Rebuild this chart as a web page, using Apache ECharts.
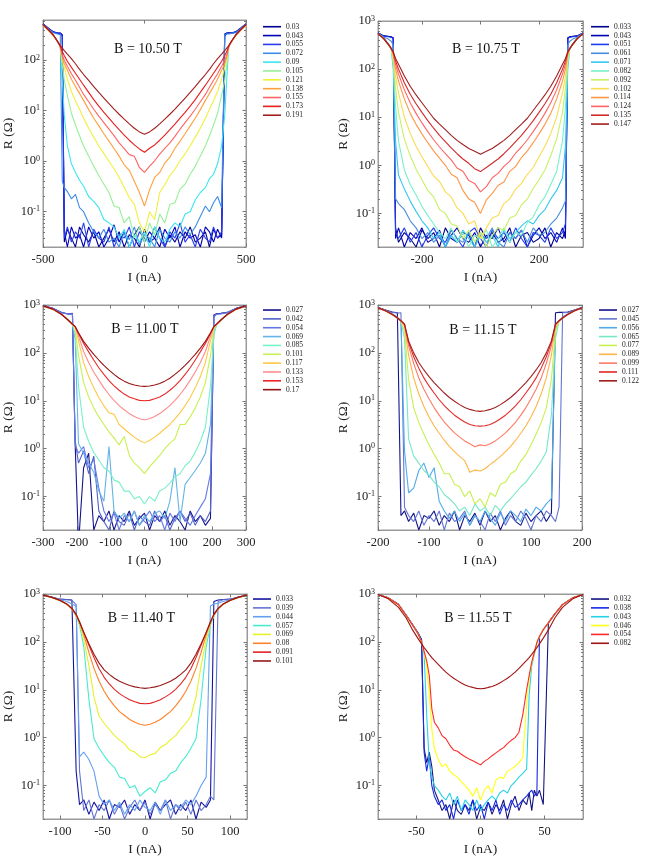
<!DOCTYPE html>
<html><head><meta charset="utf-8">
<script src="https://cdn.jsdelivr.net/npm/echarts@6/dist/echarts.min.js"></script>
<style>html,body{margin:0;padding:0;background:#fff}#c{width:664px;height:857px}</style>
</head><body><div id="c"></div><script>
const FONT = 'Liberation Serif';

// ---------- Panel 1 : B = 10.50 T ----------
const I_1050 = [-500,-475,-450,-430,-415,-405,-395,-380,-360,-340,-320,-300,-275,-250,-225,-200,-175,-150,-125,-100,-75,-50,-25,0,25,50,75,100,125,150,175,200,225,250,275,300,320,340,360,380,395,405,415,430,450,475,500];
const LEG_1050 = ['0.03','0.043','0.055','0.072','0.09','0.105','0.121','0.138','0.155','0.173','0.191'];
const COL_1050 = ['#00008c','#0000b8','#2a3cf0','#3c8ce6','#3ce6f0','#96f096','#f0f03c','#ffa03c','#ff6464','#e61e1e','#a01e1e'];
const X_TICKS_1050 = [-500,0,500];
const R_1050_030 = [525,435,365,350,345,320,0.025,0.045,0.03,0.02,0.05,0.035,0.025,0.04,0.02,0.03,0.045,0.025,0.04,0.02,0.035,0.03,0.02,0.045,0.025,0.03,0.05,0.02,0.035,0.025,0.04,0.03,0.05,0.025,0.03,0.04,0.02,0.045,0.03,0.035,330,345,350,350,365,435,525];
const R_1050_043 = [520,430,360,345,340,310,0.04,0.02,0.05,0.03,0.035,0.02,0.05,0.03,0.04,0.02,0.03,0.055,0.025,0.04,0.02,0.035,0.05,0.025,0.04,0.03,0.02,0.045,0.03,0.05,0.02,0.04,0.03,0.035,0.02,0.05,0.04,0.025,0.045,0.03,310,340,345,345,360,430,520];
const R_1050_055 = [520,430,360,345,340,300,0.03,0.05,0.025,0.04,0.03,0.06,0.02,0.045,0.03,0.025,0.05,0.02,0.035,0.03,0.05,0.02,0.04,0.03,0.025,0.05,0.03,0.02,0.04,0.03,0.06,0.025,0.035,0.02,0.045,0.03,0.025,0.05,0.03,0.04,300,340,345,345,360,430,520];
const R_1050_072 = [515,420,350,330,320,0.4,0.3,0.25,0.18,0.22,0.12,0.1,0.06,0.04,0.03,0.045,0.025,0.03,0.02,0.04,0.028,0.05,0.022,0.035,0.03,0.02,0.045,0.03,0.025,0.04,0.03,0.05,0.035,0.05,0.08,0.13,0.1,0.15,0.2,0.12,320,330,330,340,350,420,515];
const R_1050_090 = [500,405,315,240,186,40,8,2.0,0.89,0.6,0.42,0.32,0.2,0.16,0.12,0.07,0.06,0.05,0.03,0.045,0.02,0.035,0.025,0.04,0.02,0.05,0.03,0.025,0.045,0.06,0.05,0.09,0.1,0.17,0.24,0.3,0.45,0.55,0.9,2.0,8,40,186,240,315,405,500];
const R_1050_105 = [495,400,312,238,186,79,40,20,8.9,5.2,3.2,2.0,1.26,0.79,0.52,0.35,0.24,0.13,0.12,0.06,0.08,0.03,0.05,0.025,0.06,0.035,0.09,0.06,0.14,0.15,0.28,0.35,0.55,0.79,1.26,2.0,3.2,5.2,8.9,20,40,79,186,238,312,400,495];
const R_1050_121 = [495,400,312,238,186,100,71,42,24,15.8,10.7,7.1,4.5,3.0,2.0,1.41,1.0,0.71,0.48,0.3,0.19,0.14,0.06,0.04,0.1,0.07,0.24,0.34,0.52,0.7,1.02,1.4,2.0,3.0,4.5,7.1,10.7,15.8,24,42,71,100,186,238,312,400,495];
const R_1050_138 = [495,400,312,238,186,112,85,63,42,30,22,16,10.5,7.1,5,3.5,2.5,1.78,1.26,0.85,0.66,0.4,0.24,0.13,0.27,0.48,0.6,0.92,1.2,1.8,2.5,3.5,5,7.1,10.5,16,22,30,42,63,85,112,186,238,312,400,495];
const R_1050_155 = [500,400,312,238,186,126,100,76,54,40,29,21,15,10.7,7.8,5.8,4.3,3.2,2.3,1.78,1.35,1.25,0.75,0.6,0.8,1.02,1.38,1.8,2.3,3.1,4.3,5.8,7.8,10.7,15,21,29,40,54,76,100,126,186,238,312,400,500];
const R_1050_173 = [500,405,315,240,190,148,123,95,72,55,42,32,23,16.6,12.3,9.3,7.1,5.4,4.2,3.3,2.6,2.1,1.75,1.5,1.8,2.1,2.6,3.3,4.2,5.4,7.1,9.3,12.3,16.6,23,32,42,55,72,95,123,148,190,240,315,405,500];
const R_1050_191 = [510,410,320,245,195,174,155,132,107,85,66,52,40,30,23,17.8,13.8,10.7,8.5,6.8,5.5,4.5,3.8,3.4,3.8,4.5,5.5,6.8,8.5,10.7,13.8,17.8,23,30,40,52,66,85,107,132,155,174,195,245,320,410,510];

// ---------- Panel 2 : B = 10.75 T ----------
const I_1075 = [-350,-330,-315,-305,-298,-290,-280,-260,-240,-220,-200,-180,-160,-140,-120,-100,-80,-60,-40,-20,0,20,40,60,80,100,120,140,160,180,200,220,240,260,280,290,298,305,315,330,350];
const LEG_1075 = ['0.033','0.043','0.051','0.061','0.071','0.082','0.092','0.102','0.114','0.124','0.135','0.147'];
const COL_1075 = ['#00008c','#0000b4','#1e3cf0','#468cdc','#32c8f0','#78f0c8','#c8f064','#fadc50','#ff9646','#ff6464','#d22828','#a01e1e'];
const X_TICKS_1075 = [-200,0,200];
const R_1075_033 = [565,490,480,470,450,0.05,0.025,0.04,0.03,0.02,0.045,0.03,0.04,0.02,0.05,0.03,0.025,0.04,0.035,0.02,0.05,0.03,0.04,0.025,0.03,0.05,0.02,0.035,0.04,0.025,0.03,0.05,0.02,0.04,0.03,0.045,450,470,480,490,565];
const R_1075_043 = [560,485,475,465,440,0.03,0.05,0.02,0.04,0.03,0.05,0.025,0.03,0.045,0.02,0.035,0.05,0.03,0.025,0.04,0.02,0.035,0.03,0.05,0.025,0.04,0.03,0.045,0.02,0.035,0.05,0.03,0.04,0.025,0.05,0.03,440,465,475,485,560];
const R_1075_051 = [560,480,470,460,430,0.04,0.03,0.05,0.025,0.04,0.02,0.035,0.05,0.03,0.025,0.045,0.03,0.02,0.04,0.05,0.03,0.02,0.045,0.03,0.04,0.025,0.05,0.03,0.02,0.04,0.035,0.025,0.05,0.03,0.04,0.06,430,460,470,480,560];
const R_1075_061 = [555,460,420,380,320,0.2,0.16,0.12,0.07,0.05,0.03,0.04,0.025,0.035,0.02,0.045,0.03,0.025,0.04,0.02,0.035,0.03,0.05,0.025,0.02,0.04,0.03,0.045,0.025,0.05,0.035,0.04,0.06,0.08,0.13,0.18,320,380,420,460,555];
const R_1075_071 = [550,440,340,275,100,3.2,0.63,0.32,0.18,0.11,0.07,0.05,0.03,0.04,0.02,0.035,0.025,0.045,0.03,0.02,0.04,0.025,0.035,0.02,0.045,0.03,0.04,0.055,0.07,0.06,0.09,0.12,0.2,0.3,0.55,2.5,100,275,340,440,550];
const R_1075_082 = [545,425,326,266,126,16,3.2,0.8,0.4,0.24,0.14,0.09,0.06,0.04,0.03,0.05,0.025,0.04,0.02,0.035,0.03,0.045,0.02,0.03,0.05,0.025,0.04,0.035,0.065,0.085,0.15,0.22,0.4,0.75,3.2,16,126,266,326,425,545];
const R_1075_092 = [545,425,326,266,158,40,12.6,3.5,1.58,0.83,0.5,0.3,0.22,0.12,0.1,0.06,0.055,0.03,0.045,0.025,0.04,0.02,0.035,0.05,0.045,0.08,0.09,0.15,0.2,0.33,0.5,0.8,1.6,3.5,12.6,40,158,266,326,425,545];
const R_1075_102 = [545,425,326,266,178,71,32,10,4.6,2.5,1.5,0.95,0.6,0.46,0.28,0.22,0.13,0.1,0.06,0.07,0.03,0.05,0.08,0.09,0.16,0.2,0.32,0.42,0.65,0.9,1.5,2.5,4.6,10,32,71,178,266,326,425,545];
const R_1075_114 = [545,425,326,266,200,100,56,24,12,7.1,4.5,2.95,2.0,1.41,1.0,0.65,0.55,0.3,0.2,0.17,0.1,0.19,0.26,0.38,0.45,0.75,0.95,1.45,2.0,2.95,4.5,7.1,12,24,56,100,200,266,326,425,545];
const R_1075_124 = [545,425,326,266,214,126,79,37,20,12,7.6,5.0,3.4,2.4,1.74,1.3,0.88,0.75,0.48,0.42,0.28,0.36,0.55,0.68,0.95,1.22,1.8,2.4,3.4,5.0,7.6,12,20,37,79,126,214,266,326,425,545];
const R_1075_135 = [545,425,328,268,224,148,100,52,30,19,12.6,8.5,5.9,4.2,3.1,2.3,1.74,1.35,1.1,0.85,0.74,0.9,1.1,1.35,1.74,2.3,3.1,4.2,5.9,8.5,12.6,19,30,52,100,148,224,268,328,425,545];
const R_1075_147 = [550,430,330,270,230,166,126,72,44,29,20,13.8,9.5,7.2,5.5,4.2,3.3,2.7,2.24,1.95,1.7,1.95,2.24,2.7,3.3,4.2,5.5,7.2,9.5,13.8,20,29,44,72,126,166,230,270,330,430,550];

// ---------- Panel 3 : B = 11.00 T ----------
const I_1100 = [-300,-270,-245,-225,-213,-205,-195,-180,-165,-150,-135,-120,-105,-90,-75,-60,-45,-30,-15,0,15,30,45,60,75,90,105,120,135,150,165,180,195,205,213,225,245,270,300];
const LEG_1100 = ['0.027','0.042','0.054','0.069','0.085','0.101','0.117','0.133','0.153','0.17'];
const COL_1100 = ['#14148c','#5060c8','#6478e6','#64b4e6','#78f0c8','#c8f050','#ffc846','#ff8c8c','#eb2828','#961414'];
const X_TICKS_1100 = [-300,-200,-100,0,100,200,300];
const R_1100_027 = [970,850,700,650,670,1.3,0.01,0.4,0.8,0.02,0.04,0.03,0.05,0.02,0.04,0.03,0.05,0.025,0.035,0.045,0.02,0.04,0.03,0.05,0.025,0.04,0.03,0.02,0.05,0.03,0.04,0.025,0.035,620,660,670,700,850,970];
const R_1100_042 = [965,845,700,650,660,1.5,0.5,0.9,0.3,0.7,0.05,0.03,0.02,0.05,0.03,0.025,0.045,0.02,0.04,0.03,0.025,0.05,0.03,0.04,0.02,0.035,0.05,0.03,0.045,0.025,0.04,0.03,0.05,600,650,660,700,845,965];
const R_1100_054 = [960,840,690,640,650,1.2,0.8,1.1,0.4,0.6,0.15,0.05,0.03,0.045,0.02,0.04,0.03,0.05,0.025,0.035,0.05,0.03,0.04,0.02,0.045,0.03,0.05,0.035,0.025,0.04,0.06,0.09,0.3,560,640,650,690,840,960];
const R_1100_069 = [950,810,640,480,390,200,1.26,0.8,0.5,0.32,0.13,0.08,1.1,0.05,0.035,0.045,0.03,0.05,0.025,0.04,0.03,0.045,0.05,0.035,0.08,0.4,0.03,0.18,0.25,0.35,0.5,0.8,3.2,251,390,480,640,810,950];
const R_1100_085 = [945,805,630,475,385,251,20,2.8,1.41,0.83,0.58,0.4,0.34,0.22,0.2,0.13,0.13,0.09,0.1,0.07,0.1,0.08,0.13,0.15,0.19,0.26,0.3,0.44,0.55,0.85,1.41,2.8,20,251,385,475,630,805,945];
const R_1100_101 = [945,805,630,475,390,316,89,24,12,7.1,4.6,3.2,2.24,1.66,1.2,1.8,0.72,0.5,0.4,0.3,0.42,0.55,0.72,1.0,1.3,1.6,3.2,3.2,4.6,7.1,12,24,89,316,390,475,630,805,945];
const R_1100_117 = [945,805,630,475,395,347,178,63,32,18.6,11.7,7.9,5.6,5.2,3.2,2.6,2.1,1.74,1.48,1.32,1.48,1.74,2.1,2.6,3.2,4.2,5.6,7.9,11.7,18.6,32,63,178,347,395,475,630,805,945];
const R_1100_133 = [950,810,632,476,396,355,224,107,63,40,27,18.6,13.5,10.2,7.9,6.5,5.4,4.7,4.2,4.0,4.2,4.7,5.4,6.5,7.9,10.2,13.5,18.6,27,40,63,107,224,355,396,476,632,810,950];
const R_1100_153 = [955,815,636,478,398,355,251,158,105,71,49,35.5,26.3,20.4,16.6,13.8,12,11,10.2,10,10.2,11,12,13.8,16.6,20.4,26.3,35.5,49,71,105,158,251,355,398,478,636,815,955];
const R_1100_170 = [960,820,640,480,400,355,263,174,126,93,71,55,43.6,35.5,29.5,25.7,22.9,21.4,20.4,20,20.4,21.4,22.9,25.7,29.5,35.5,43.6,55,71,93,126,174,263,355,400,480,640,820,960];

// ---------- Panel 4 : B = 11.15 T ----------
const I_1115 = [-200,-185,-172,-162,-155,-148,-140,-130,-120,-110,-100,-90,-80,-70,-60,-50,-40,-30,-20,-10,0,10,20,30,40,50,60,70,80,90,100,110,120,130,140,148,155,162,172,185,200];
const LEG_1115 = ['0.027','0.045','0.056','0.065','0.077','0.089','0.099','0.111','0.122'];
const COL_1115 = ['#14148c','#6474d2','#50aaeb','#78e6c8','#c8f050','#ffb446','#ff7864','#e12828','#a02020'];
const X_TICKS_1115 = [-200,-100,0,100,200];
const R_1115_027 = [890,790,710,690,0.04,0.05,0.03,0.045,0.02,0.04,0.035,0.05,0.025,0.04,0.03,0.05,0.02,0.04,0.03,0.045,0.025,0.05,0.03,0.04,0.02,0.035,0.05,0.03,0.025,0.045,0.03,0.04,0.05,0.03,0.045,690,700,700,710,790,890];
const R_1115_045 = [885,780,700,680,690,0.06,0.04,0.03,0.05,0.025,0.04,0.03,0.05,0.02,0.045,0.03,0.035,0.05,0.025,0.04,0.03,0.02,0.045,0.03,0.05,0.025,0.04,0.03,0.05,0.035,0.02,0.04,0.03,0.05,0.04,0.03,0.06,690,700,780,885];
const R_1115_056 = [875,760,650,560,470,0.9,0.12,0.15,0.35,0.5,0.25,0.4,0.08,0.05,0.035,0.05,0.03,0.045,0.025,0.04,0.03,0.05,0.035,0.025,0.045,0.03,0.05,0.04,0.03,0.055,0.04,0.06,0.05,0.07,0.09,300,470,560,650,760,880];
const R_1115_065 = [870,755,632,532,455,200,1.6,0.7,0.5,0.35,0.28,0.2,0.16,0.11,0.09,0.07,0.05,0.06,0.04,0.07,0.05,0.06,0.04,0.065,0.05,0.07,0.09,0.12,0.16,0.2,0.28,0.38,0.55,0.85,5,200,455,532,632,755,870];
const R_1115_077 = [868,748,628,530,458,282,28,7.1,3.5,2.0,1.2,0.76,0.5,0.3,0.3,0.18,0.16,0.1,0.13,0.07,0.09,0.06,0.12,0.1,0.18,0.2,0.3,0.35,0.55,0.75,1.2,2.0,3.5,7.1,28,282,458,530,628,748,868];
const R_1115_089 = [870,750,630,532,462,355,89,30,13.8,7.6,4.6,3.0,2.1,1.5,1.12,0.87,0.69,0.56,0.32,0.36,0.34,0.38,0.47,0.56,0.69,0.87,1.12,1.5,2.1,3.0,4.6,7.6,13.8,30,89,355,462,532,630,750,870];
const R_1115_099 = [870,750,632,534,465,380,141,60,30,17.4,11,7.2,5.0,3.6,2.75,2.14,1.74,1.45,1.26,1.1,1.2,1.15,1.26,1.45,1.74,2.14,2.75,3.6,5.0,7.2,11,17.4,30,60,141,380,465,534,632,750,870];
const R_1115_111 = [875,755,636,536,468,398,166,83,48,30,20.4,14.5,10.5,7.9,6.2,5.0,4.2,3.6,3.2,3.0,2.95,3.0,3.2,3.6,4.2,5.0,6.2,7.9,10.5,14.5,20.4,30,48,83,166,398,468,536,636,755,875];
const R_1115_122 = [880,760,640,540,470,400,178,100,63,44,32,24,18.6,14.5,11.7,9.8,8.3,7.2,6.6,6.2,6.0,6.2,6.6,7.2,8.3,9.8,11.7,14.5,18.6,24,32,44,63,100,178,400,470,540,640,760,880];

// ---------- Panel 5 : B = 11.40 T ----------
const I_1140 = [-120,-110,-100,-92,-86,-81,-77,-72,-66,-60,-54,-48,-42,-36,-30,-24,-18,-12,-6,0,6,12,18,24,30,36,42,48,54,60,66,72,77,81,86,92,100,110,120];
const LEG_1140 = ['0.033','0.039','0.044','0.057','0.069','0.08','0.091','0.101'];
const COL_1140 = ['#1414a0','#6474d2','#64a0f0','#46ebd2','#e6f028','#ff8228','#e12323','#961919'];
const X_TICKS_1140 = [-100,-50,0,50,100];
const R_1140_033 = [948,865,780,770,750,0.2,0.04,0.05,0.025,0.045,0.03,0.05,0.02,0.04,0.035,0.05,0.025,0.04,0.03,0.05,0.02,0.045,0.03,0.04,0.05,0.025,0.04,0.03,0.05,0.02,0.045,0.035,0.05,700,750,770,780,865,948];
const R_1140_039 = [945,860,770,760,740,600,0.2,0.03,0.05,0.02,0.04,0.03,0.05,0.025,0.04,0.02,0.035,0.05,0.03,0.045,0.025,0.04,0.03,0.05,0.02,0.04,0.03,0.045,0.025,0.05,0.03,0.04,0.06,0.05,700,760,770,860,945];
const R_1140_044 = [940,855,760,700,620,560,0.4,0.5,0.35,0.2,0.06,0.04,0.05,0.03,0.045,0.025,0.04,0.03,0.05,0.035,0.03,0.045,0.025,0.05,0.03,0.04,0.035,0.05,0.04,0.06,0.1,0.15,560,620,640,700,760,855,940];
const R_1140_057 = [936,846,726,608,488,347,224,79,6.3,0.95,0.6,0.42,0.3,0.24,0.15,0.14,0.09,0.1,0.06,0.075,0.09,0.07,0.12,0.13,0.18,0.2,0.3,0.4,0.6,0.95,6.3,79,224,347,488,608,726,846,936];
const R_1140_069 = [938,848,728,610,490,355,240,112,32,7.1,2.8,2.0,1.48,1.12,0.89,0.74,0.55,0.5,0.4,0.38,0.44,0.47,0.62,0.72,0.9,1.1,1.5,2.0,2.8,7.1,32,112,240,355,490,610,728,848,938];
const R_1140_080 = [940,850,730,612,492,363,251,141,60,28,15.1,9.3,6.3,4.6,3.5,2.9,2.4,2.1,1.9,1.82,1.9,2.1,2.4,2.9,3.5,4.6,6.3,9.3,15.1,28,60,141,251,363,492,612,730,850,940];
const R_1140_091 = [945,855,735,615,495,372,263,158,85,47,27.5,18.2,13.2,10.2,8.3,7.1,6.2,5.6,5.2,5.1,5.2,5.6,6.2,7.1,8.3,10.2,13.2,18.2,27.5,47,85,158,263,372,495,615,735,855,945];
const R_1140_101 = [950,860,740,620,500,380,260,158,91,55,36,26,21,17.4,15.1,13.5,12.3,11.5,11,10.7,11,11.5,12.3,13.5,15.1,17.4,21,26,36,55,91,158,260,380,500,620,740,860,950];

// ---------- Panel 6 : B = 11.55 T ----------
const I_1155 = [-80,-72,-64,-58,-53,-49,-46,-44,-42,-40,-38,-36,-33,-30,-27,-24,-21,-18,-15,-12,-9,-6,-3,0,3,6,9,12,15,18,21,24,27,30,33,36,38,40,42,44,46,49,53,58,64,72,80];
const LEG_1155 = ['0.032','0.038','0.043','0.046','0.054','0.082'];
const COL_1155 = ['#141480','#1428e6','#28d2e6','#ffff14','#ff2828','#a01414'];
const X_TICKS_1155 = [-50,0,50];
const R_1155_032 = [980,835,610,362,230,158,112,0.6,0.3,0.5,0.25,0.08,0.05,0.03,0.04,0.02,0.05,0.03,0.025,0.04,0.03,0.05,0.02,0.035,0.03,0.045,0.025,0.04,0.03,0.05,0.02,0.04,0.06,0.03,0.05,0.04,0.07,0.03,0.08,0.06,0.08,0.04,255,385,605,835,980];
const R_1155_038 = [978,830,605,360,228,155,110,0.5,0.2,0.4,0.1,0.06,0.04,0.05,0.03,0.04,0.02,0.05,0.03,0.04,0.025,0.05,0.03,0.04,0.02,0.045,0.03,0.05,0.025,0.04,0.03,0.05,0.035,0.04,0.05,0.06,0.07,0.08,0.06,0.07,130,180,250,380,600,830,978];
const R_1155_043 = [975,825,598,355,224,151,100,55,3,0.3,0.15,0.1,0.08,0.06,0.05,0.07,0.04,0.06,0.03,0.05,0.04,0.03,0.05,0.03,0.04,0.05,0.06,0.05,0.07,0.08,0.07,0.1,0.12,0.15,0.18,0.22,8,32,54,92,128,180,250,380,600,830,977];
const R_1155_046 = [975,825,598,355,224,151,100,60,30,8,1.5,0.6,0.35,0.25,0.28,0.2,0.17,0.15,0.12,0.1,0.08,0.06,0.09,0.05,0.08,0.1,0.07,0.13,0.15,0.14,0.2,0.22,0.25,0.3,0.38,5,18,36,58,96,130,180,250,380,600,830,977];
const R_1155_054 = [975,825,598,355,224,151,100,63,40,20,4,2.1,1.6,1.1,0.95,0.7,0.55,0.52,0.45,0.4,0.36,0.33,0.3,0.27,0.32,0.36,0.42,0.48,0.55,0.62,0.75,0.88,1.0,1.3,3.0,10,20,38,60,98,130,180,250,380,600,830,977];
const R_1155_082 = [977,794,525,316,178,120,91,76,65,55,47,41,34,28,23.4,20,17.4,15.5,13.8,12.6,11.7,11.2,10.7,10.5,10.7,11.2,11.7,12.6,13.8,15.5,17.4,20,23.4,28,34,41,47,55,65,76,91,120,178,316,525,794,977];

const Y_TICKS_LOW = [0.1,1,10,100];
const Y_TICKS = [0.1,1,10,100,1000];
const Y_MINOR = [0.02,0.03,0.04,0.05,0.06,0.07,0.08,0.09,0.2,0.3,0.4,0.5,0.6,0.7,0.8,0.9,2,3,4,5,6,7,8,9,20,30,40,50,60,70,80,90,200,300,400,500,600,700,800,900];

// ---------- layout (positions only) ----------
const PANELS = [
  {title:'B = 10.50 T', I:I_1050, labels:LEG_1050, colors:COL_1050, xTicks:X_TICKS_1050, yTicks:Y_TICKS_LOW,
   R:[R_1050_030,R_1050_043,R_1050_055,R_1050_072,R_1050_090,R_1050_105,R_1050_121,R_1050_138,R_1050_155,R_1050_173,R_1050_191],
   xMin:-500,xMax:500,yMax:625, grid:{left:42,top:20,width:204,height:227}, leg:[263,22.3], tp:[148,49]},
  {title:'B = 10.75 T', I:I_1075, labels:LEG_1075, colors:COL_1075, xTicks:X_TICKS_1075, yTicks:Y_TICKS,
   R:[R_1075_033,R_1075_043,R_1075_051,R_1075_061,R_1075_071,R_1075_082,R_1075_092,R_1075_102,R_1075_114,R_1075_124,R_1075_135,R_1075_147],
   xMin:-350,xMax:350,yMax:1000, grid:{left:378,top:21,width:205,height:226}, leg:[591,22.3], tp:[486,49]},
  {title:'B = 11.00 T', I:I_1100, labels:LEG_1100, colors:COL_1100, xTicks:X_TICKS_1100, yTicks:Y_TICKS,
   R:[R_1100_027,R_1100_042,R_1100_054,R_1100_069,R_1100_085,R_1100_101,R_1100_117,R_1100_133,R_1100_153,R_1100_170],
   xMin:-300,xMax:300,yMax:1000, grid:{left:42,top:305,width:204,height:225}, leg:[263,305.6], tp:[145,329]},
  {title:'B = 11.15 T', I:I_1115, labels:LEG_1115, colors:COL_1115, xTicks:X_TICKS_1115, yTicks:Y_TICKS,
   R:[R_1115_027,R_1115_045,R_1115_056,R_1115_065,R_1115_077,R_1115_089,R_1115_099,R_1115_111,R_1115_122],
   xMin:-200,xMax:200,yMax:1000, grid:{left:378,top:305,width:204,height:225}, leg:[599,305.6], tp:[483,330]},
  {title:'B = 11.40 T', I:I_1140, labels:LEG_1140, colors:COL_1140, xTicks:X_TICKS_1140, yTicks:Y_TICKS,
   R:[R_1140_033,R_1140_039,R_1140_044,R_1140_057,R_1140_069,R_1140_080,R_1140_091,R_1140_101],
   xMin:-120,xMax:120,yMax:1000, grid:{left:41,top:594,width:206,height:225}, leg:[253,594.6], tp:[141.5,618]},
  {title:'B = 11.55 T', I:I_1155, labels:LEG_1155, colors:COL_1155, xTicks:X_TICKS_1155, yTicks:Y_TICKS,
   R:[R_1155_032,R_1155_038,R_1155_043,R_1155_046,R_1155_054,R_1155_082],
   xMin:-80,xMax:80,yMax:1000, grid:{left:378,top:594,width:205,height:225}, leg:[591,594.6], tp:[478,618]}
];

const grids=[], xAxes=[], yAxes=[], series=[], legends=[], graphics=[];
const frameColor = '#9a9a9a';
PANELS.forEach((p,k)=>{
  grids.push(Object.assign({show:true, borderColor:frameColor, borderWidth:1, containLabel:false}, p.grid));
  const tick = (vals,len) => ({show:true, inside:true, length:len, customValues:vals, lineStyle:{color:'#777', width:1}});
  const line = {show:true, onZero:false, lineStyle:{color:frameColor, width:1}};
  const noLine = {show:false, onZero:false};
  const minor = Y_MINOR.filter(v => v < p.yMax);
  xAxes.push({type:'value', gridIndex:k, min:p.xMin, max:p.xMax, position:'bottom',
    name:'I (nA)', nameLocation:'middle', nameGap:23,
    nameTextStyle:{fontFamily:FONT, fontSize:13.5, color:'#222'},
    axisLine:line, axisTick:tick(p.xTicks,3.5),
    axisLabel:{customValues:p.xTicks, fontFamily:FONT, fontSize:12.5, color:'#222', margin:6},
    splitLine:{show:false}});
  xAxes.push({type:'value', gridIndex:k, min:p.xMin, max:p.xMax, position:'top',
    axisLine:line, axisTick:tick(p.xTicks,3.5), axisLabel:{show:false}, splitLine:{show:false}});
  yAxes.push({type:'log', logBase:10, gridIndex:k, min:0.02, max:p.yMax, position:'left',
    name:'R (Ω)', nameLocation:'middle', nameGap:28,
    nameTextStyle:{fontFamily:FONT, fontSize:13.5, color:'#222'},
    axisLine:line, axisTick:tick(p.yTicks,3.5),
    axisLabel:{customValues:p.yTicks, fontFamily:FONT, fontSize:12.5, color:'#222', margin:3,
      formatter: v => '10{s|' + Math.round(Math.log10(v)) + '}',
      rich:{s:{fontFamily:FONT, fontSize:8, color:'#222', verticalAlign:'top', lineHeight:8}}},
    splitLine:{show:false}, minorTick:{show:false}});
  yAxes.push({type:'log', logBase:10, gridIndex:k, min:0.02, max:p.yMax, position:'right',
    axisLine:line, axisTick:tick(p.yTicks,3.5), axisLabel:{show:false}, splitLine:{show:false}});
  yAxes.push({type:'log', logBase:10, gridIndex:k, min:0.02, max:p.yMax, position:'left',
    axisLine:noLine, axisTick:tick(minor,2), axisLabel:{show:false}, splitLine:{show:false}});
  yAxes.push({type:'log', logBase:10, gridIndex:k, min:0.02, max:p.yMax, position:'right',
    axisLine:noLine, axisTick:tick(minor,2), axisLabel:{show:false}, splitLine:{show:false}});
  const names = [];
  p.R.forEach((vals,j)=>{
    const nm = 'p'+k+':'+p.labels[j];
    names.push(nm);
    series.push({type:'line', name:nm, xAxisIndex:2*k, yAxisIndex:4*k,
      data:p.I.map((x,i)=>[x, vals[i]]),
      symbol:'none', showSymbol:false, clip:true, animation:false, silent:true,
      color:p.colors[j], lineStyle:{width:1.1, color:p.colors[j]}, itemStyle:{color:p.colors[j]},
      emphasis:{disabled:true}});
  });
  legends.push({orient:'vertical', left:p.leg[0], top:p.leg[1], padding:0, itemGap:0,
    icon:'rect', itemWidth:18, itemHeight:1.6, selectedMode:false, data:names,
    formatter: n => n.split(':')[1],
    textStyle:{fontFamily:FONT, fontSize:7.5, color:'#222', lineHeight:8.85, height:8.85}});
  graphics.push({type:'text', x:p.tp[0], y:p.tp[1], z:100,
    style:{text:p.title, fontFamily:FONT, fontSize:14, fill:'#111', align:'center', verticalAlign:'middle'}});
});

const chart = echarts.init(document.getElementById('c'), null, {renderer:'canvas'});
chart.setOption({
  backgroundColor:'#fff', animation:false,
  grid:grids, xAxis:xAxes, yAxis:yAxes, series:series, legend:legends, graphic:graphics
});
</script></body></html>
